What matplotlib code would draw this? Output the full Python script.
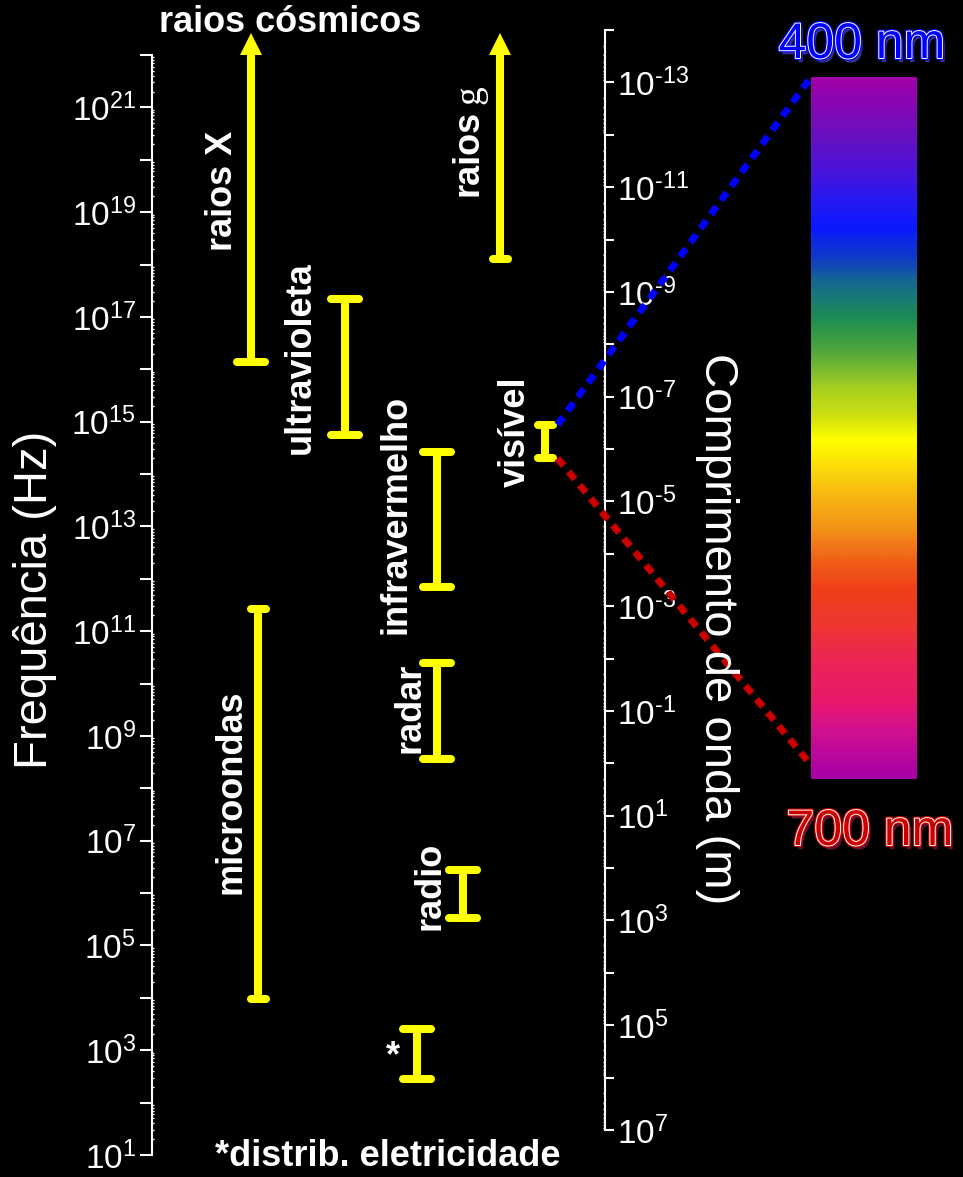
import numpy as np
import matplotlib
matplotlib.use('Agg')
import matplotlib.pyplot as plt
import matplotlib.patheffects as pe
from matplotlib import font_manager
from matplotlib.colors import LinearSegmentedColormap
from matplotlib.patches import ConnectionPatch
from matplotlib.ticker import FixedLocator, FuncFormatter, LogLocator, NullFormatter

# tick labels in the original use a tall, narrow face
names = {f.name for f in font_manager.fontManager.ttflist}
narrow = 'Liberation Sans Narrow' in names
tick_font = 'Liberation Sans Narrow' if narrow else 'Liberation Sans'
tick_size = 27 if narrow else 24

plt.rcParams['font.family'] = ['Liberation Sans', 'DejaVu Sans']
plt.rcParams['mathtext.fontset'] = 'custom'
plt.rcParams['mathtext.rm'] = tick_font
plt.rcParams['mathtext.it'] = tick_font + ':italic'
plt.rcParams['mathtext.bf'] = tick_font + ':bold'

c = 3e8  # m/s

# frequency bands in Hz (None = open ended, drawn as arrow)
bands = ['raios X', 'raios g', 'ultravioleta', 'infravermelho', 'visível',
         'microondas', 'radar', 'radio', '*']
f_low = [1.35e16, 1.26e18, 5.6e14, 7.1e11, 2.0e14, 9.5e3, 3.6e8, 3.4e5, 2.8e2]
f_high = [None, None, 2.2e17, 2.6e14, 8.7e14, 2.7e11, 2.5e10, 2.75e6, 2.6e3]

# layout: horizontal slot of each band (px from left spine), half width of caps
band_x = [99, 348, 193, 285, 393, 106, 285, 311, 265]
cap_half = [14, 7.5, 14, 14, 7.5, 7.5, 14, 14, 14]

# visible spectrum strip
spec_nm = [400, 424, 439, 450, 464, 478, 487, 504, 519, 533, 545,
           555, 576, 594, 607, 619, 636, 650, 668, 680, 700]
spec_col = ['#A000A8', '#6A10C0', '#4A14D8', '#2A18EE', '#0A18FF', '#1040C0',
            '#156890', '#1E9050', '#5AAA38', '#A8D020', '#D0E010',
            '#FFFF00', '#F8C010', '#F39018', '#F06018', '#F04018', '#EE3535',
            '#EB2555', '#E8186C', '#D01090', '#A800A8']

freq_decades = np.arange(1, 23)
wl_decades = np.arange(-14, 8)

W, H = 963, 1177
fig = plt.figure(figsize=(W / 100, H / 100), dpi=100, facecolor='black')


def fx(px):
    return px / W


def fy(py):
    return 1 - py / H


yel = '#FFFF00'
lw_bar = 5.8

# frequency axis
ax_h = (1155 - 55) / H
ax = fig.add_axes([fx(152), fy(1155), (605 - 152) / W, ax_h])
ax.set_facecolor('none')
ax.set_yscale('log')
ax.set_ylim(10.0 ** freq_decades[0], 10.0 ** freq_decades[-1])
ax.set_xlim(0, 453)
ax.set_xticks([])
for s in ['top', 'right', 'bottom']:
    ax.spines[s].set_visible(False)
ax.spines['left'].set_color('white')
ax.spines['left'].set_linewidth(1.5)
ax.yaxis.set_major_locator(FixedLocator(10.0 ** freq_decades))
ax.yaxis.set_major_formatter(FuncFormatter(
    lambda v, _: '$10^{%d}$' % round(np.log10(v)) if round(np.log10(v)) % 2 else ''))
ax.yaxis.set_minor_locator(LogLocator(base=10, subs=np.arange(2, 10), numticks=200))
ax.yaxis.set_minor_formatter(NullFormatter())
ax.tick_params(axis='y', which='major', direction='out', length=8.6, width=1.5,
               colors='white', labelsize=tick_size, pad=3)
ax.tick_params(axis='y', which='minor', direction='in', length=1.5, width=1, colors='white')

# wavelength axis, lambda = c / f
lo_frac = (np.log10(c / 10.0 ** wl_decades[-1]) - freq_decades[0]) / (freq_decades[-1] - freq_decades[0])
ax2 = fig.add_axes([fx(152), fy(1155) + lo_frac * ax_h, (605 - 152) / W, ax_h])
ax2.set_facecolor('none')
ax2.set_yscale('log')
ax2.set_ylim(10.0 ** wl_decades[-1], 10.0 ** wl_decades[0])
ax2.set_xticks([])
for s in ['top', 'left', 'bottom']:
    ax2.spines[s].set_visible(False)
ax2.spines['right'].set_color('white')
ax2.spines['right'].set_linewidth(1.5)
ax2.yaxis.tick_right()
ax2.yaxis.set_major_locator(FixedLocator(10.0 ** wl_decades))


def wl_fmt(v, _):
    e = int(round(np.log10(v)))
    if e % 2 == 0:
        return ''
    if e < 0:
        return r'$10^{\text{-}%d}$' % (-e)
    return '$10^{%d}$' % e


ax2.yaxis.set_major_formatter(FuncFormatter(wl_fmt))
ax2.yaxis.set_minor_locator(LogLocator(base=10, subs=np.arange(2, 10), numticks=200))
ax2.yaxis.set_minor_formatter(NullFormatter())
ax2.tick_params(axis='y', which='major', direction='out', length=6.5, width=1.5,
                colors='white', labelsize=tick_size, pad=2)
ax2.tick_params(axis='y', which='minor', direction='in', length=1.5, width=1, colors='white')

# bands
for x, lo, hi, hw in zip(band_x, f_low, f_high, cap_half):
    top = hi if hi is not None else 10.0 ** (freq_decades[-1] + 0.05)
    ax.plot([x, x], [lo, top], color=yel, lw=lw_bar, solid_capstyle='butt', clip_on=False)
    ax.plot([x - hw, x + hw], [lo, lo], color=yel, lw=lw_bar, solid_capstyle='round', clip_on=False)
    if hi is not None:
        ax.plot([x - hw, x + hw], [hi, hi], color=yel, lw=lw_bar, solid_capstyle='round', clip_on=False)
    else:
        ax.plot([x], [10.0 ** (freq_decades[-1] + 0.21)], marker='^', ms=16.5, mew=0,
                color=yel, clip_on=False)

# visible strip
cax = fig.add_axes([fx(811), fy(779), 106 / W, (779 - 77) / H])
cmap = LinearSegmentedColormap.from_list(
    'vis', [((n - spec_nm[0]) / (spec_nm[-1] - spec_nm[0]), col) for n, col in zip(spec_nm, spec_col)])
cax.imshow(np.linspace(spec_nm[0], spec_nm[-1], 400)[:, None], aspect='auto', cmap=cmap,
           vmin=spec_nm[0], vmax=spec_nm[-1])
cax.axis('off')

vi = bands.index('visível')
for f, yb, col in [(f_high[vi], 1.0, '#0000FF'), (f_low[vi], 0.02, '#CC0000')]:
    con = ConnectionPatch(xyA=(band_x[vi] + cap_half[vi] + 5, f), coordsA=ax.transData,
                          xyB=(0, yb), coordsB=cax.transAxes, color=col, lw=5,
                          linestyle=(0, (1.4, 1.1)), capstyle='butt')
    fig.add_artist(con)

# texts
wt = 'white'
bold = dict(color=wt, fontsize=26, fontweight='bold', ha='center', va='center')
fig.text(fx(290), fy(22), 'raios cósmicos', **bold)
fig.text(fx(222), fy(191), 'raios X', rotation=90, **bold)
fig.text(fx(300), fy(358), 'ultravioleta', rotation=90, **bold)
fig.text(fx(396), fy(514), 'infravermelho', rotation=90, **bold)
fig.text(fx(515), fy(432), 'visível', rotation=90, **bold)
fig.text(fx(231), fy(792), 'microondas', rotation=90, **bold)
fig.text(fx(410), fy(708), 'radar', rotation=90, **bold)
fig.text(fx(430), fy(886), 'radio', rotation=90, **bold)
fig.text(fx(468), fy(153), 'raios', rotation=90, **bold)
fig.text(fx(470), fy(95), 'g', rotation=90, color=wt, fontsize=27, family='Liberation Serif',
         ha='center', va='center')
fig.text(fx(393), fy(1057), '*', **bold)
fig.text(fx(388), fy(1157), '*distrib. eletricidade', **bold)

fig.text(fx(35), fy(600), 'Frequência (Hz)', rotation=90, color=wt, fontsize=34,
         ha='center', va='center')
fig.text(fx(717), fy(629), 'Comprimento de onda (m)', rotation=-90, color=wt, fontsize=34,
         ha='center', va='center')

fig.text(fx(862), fy(45), '400 nm', color='#0000FF', fontsize=36, ha='center', va='center',
         path_effects=[pe.SimplePatchShadow(offset=(2, -3), shadow_rgbFace='#303090', alpha=1),
                       pe.Stroke(linewidth=3, foreground='#0000FF'),
                       pe.Stroke(linewidth=1.4, foreground='white'), pe.Normal()])
fig.text(fx(870), fy(832), '700 nm', color='#CC0000', fontsize=36, ha='center', va='center',
         path_effects=[pe.SimplePatchShadow(offset=(2, -3), shadow_rgbFace='#601030', alpha=1),
                       pe.Stroke(linewidth=3, foreground='#CC0000'),
                       pe.Stroke(linewidth=1.4, foreground='white'), pe.Normal()])

fig.savefig('out.png', dpi=100, facecolor='black')
